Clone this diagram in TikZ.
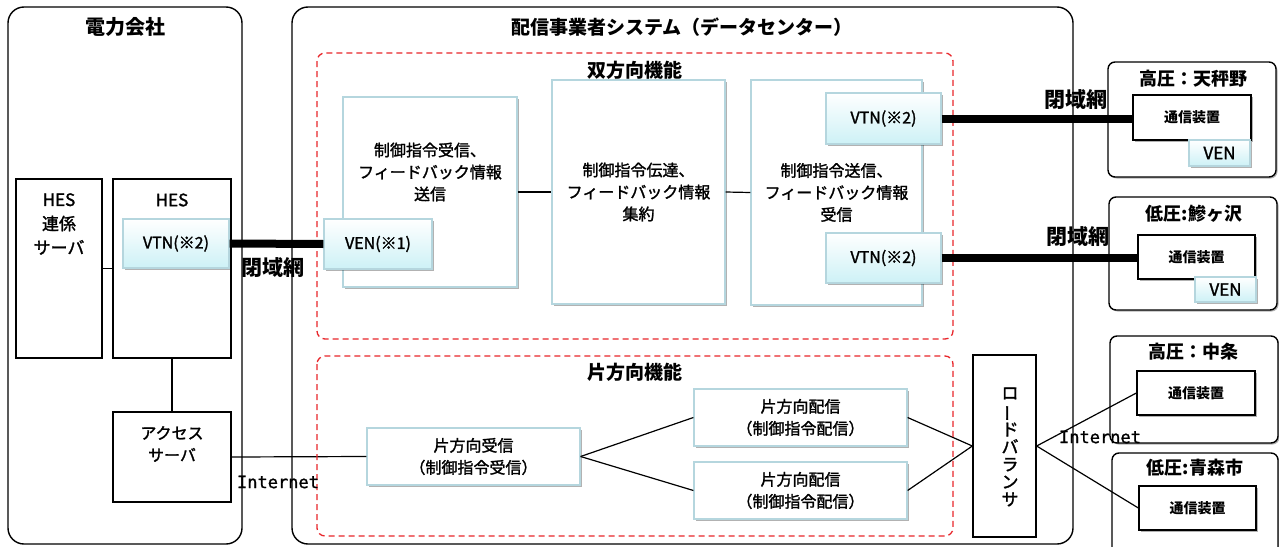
\documentclass[tikz,border=0pt]{standalone}
\usepackage{fontspec}
\setmainfont{Noto Sans CJK JP}
\newfontfamily\bodyfont{Noto Sans CJK JP}[FakeBold=1.6]
\newfontfamily\monofont{DejaVu Sans Mono}[FakeBold=1.2]
\usetikzlibrary{shadows}

\definecolor{zonered}{HTML}{E8262B}
\definecolor{funcblue}{HTML}{B5D6DE}
\definecolor{agentcyan}{HTML}{CDF1F6}

\begin{document}
\begin{tikzpicture}[x=1pt, y=-1pt, line width=1.2pt,
  dims/.style 2 args={minimum width=#1pt, minimum height=#2pt},
  txt/.style={font=\bodyfont\fontsize{16}{22}\selectfont, align=center, inner sep=0pt},
  head/.style={font=\bfseries\fontsize{19}{22}\selectfont, inner sep=0pt},
  sitehead/.style={font=\bfseries\fontsize{18}{20}\selectfont, inner sep=0pt},
  netlabel/.style={font=\bfseries\fontsize{21}{22}\selectfont, inner sep=0pt},
  inet/.style={font=\monofont\fontsize{17}{18}\selectfont, inner sep=0pt},
  softshadow/.style={drop shadow={shadow xshift=1.5pt, shadow yshift=-1.5pt, opacity=0.3, fill=black}},
  plainbox/.style={draw, fill=white, inner sep=0pt, line width=1.3pt},
  funcbox/.style={draw=funcblue, fill=white, inner sep=0pt, softshadow},
  agentbox/.style={draw=funcblue, top color=white, bottom color=agentcyan, inner sep=0pt,
    font=\bodyfont\fontsize{16}{20}\selectfont, softshadow},
  devbox/.style={draw, fill=white, inner sep=0pt, line width=1.3pt,
    font=\bfseries\fontsize{14}{16}\selectfont, softshadow},
  outerbox/.style={draw, rounded corners=16pt, line width=1.4pt},
  sitebox/.style={draw, fill=white, rounded corners=7pt, line width=1.4pt, softshadow},
  zone/.style={draw=zonered, dash pattern=on 6pt off 4pt, rounded corners=8pt, line width=1.3pt},
  link/.style={draw, line width=1.2pt},
  closednet/.style={draw, line width=8pt},
]
\useasboundingbox (0,0) rectangle (1279,546);
\clip (0,0) rectangle (1279,546);
\fill[white] (0,0) rectangle (1279,546);

% outer frames
\draw[outerbox] (8,7) rectangle (242,544);
\draw[outerbox] (292,7) rectangle (1073,544);
\node[head, font=\bfseries\fontsize{20}{22}\selectfont] (ttlpower) at (125,27) {電力会社};
\node[head] (ttlsys) at (682,27) {配信事業者システム（データセンター）};

% power company
\node[plainbox, dims={86}{179}] (hesr) at (59,268.5) {};
\node[txt, font=\bodyfont\fontsize{17}{24}\selectfont] (hesrtxt) at (59,224) {HES\\連係\\サーバ};
\node[plainbox, dims={118}{179}] (hes) at (172,268.5) {};
\node[txt, font=\bodyfont\fontsize{17}{22}\selectfont] (hestxt) at (172,200) {HES};
\node[agentbox, dims={106}{49}] (vtnh) at (176,243.5) {VTN(※2)};
\node[plainbox, dims={118}{90}] (access) at (172,457) {};
\node[txt] (accesstxt) at (172,444) {アクセス\\サーバ};

\draw[link] (hesr.east) -- (hes.west);
\draw[link] (hes.south) -- (access.north);

% two-way functions
\node[funcbox, dims={174}{190}] (rx) at (430,192) {};
\node[txt] (rxtxt) at (430,172) {制御指令受信、\\フィードバック情報\\送信};
\node[funcbox, dims={173}{224}, txt] (relay) at (638.5,192) {制御指令伝達、\\フィードバック情報\\集約};
\node[funcbox, dims={171}{225}, txt] (tx) at (836.5,192.5) {制御指令送信、\\フィードバック情報\\受信};
\node[agentbox, dims={108}{50}] (ven1) at (378,244) {VEN(※1)};
\node[agentbox, dims={115}{51}] (vtn1) at (883.5,118.5) {VTN(※2)};
\node[agentbox, dims={115}{50}] (vtn2) at (883.5,258) {VTN(※2)};

\draw[link] (rx.east) -- (relay.west);
\draw[link] (relay.east) -- (tx.west);

% one-way functions
\node[funcbox, dims={213}{57}, txt] (recv) at (473.5,456.5) {片方向受信\\（制御指令受信）};
\node[funcbox, dims={213}{57}, txt] (dist1) at (800.5,417.5) {片方向配信\\（制御指令配信）};
\node[funcbox, dims={213}{57}, txt] (dist2) at (800.5,490.5) {片方向配信\\（制御指令配信）};
\node[plainbox, dims={63}{182}] (lb) at (1004.5,446) {};
\node[txt, font=\bodyfont\fontsize{17}{17.5}\selectfont] (lbtxt) at (1010,447)
  {ロ\\\rotatebox[origin=c]{90}{ー}\\ド\\バ\\ラ\\ン\\サ};

\draw[link] (access.east) -- (recv.west);
\draw[link] (recv.east) -- (dist1.west);
\draw[link] (recv.east) -- (dist2.west);
\draw[link] (dist1.east) -- (lb.west);
\draw[link] (dist2.east) -- (lb.west);

% zones
\draw[zone] (317,53) rectangle (953,339);
\draw[zone] (317,356) rectangle (953,536);
\node[head] (ttltwo) at (635,70) {双方向機能};
\node[head] (ttlone) at (635,372) {片方向機能};

% sites
\draw[sitebox] (1108,62) rectangle (1276,177);
\node[sitehead] (site1) at (1193,79) {高圧：天秤野};
\node[devbox, dims={118}{45}] (com1) at (1192,117.5) {通信装置};
\node[agentbox, dims={61}{26}, font=\bodyfont\fontsize{17}{20}\selectfont] (vena) at (1219.5,153) {VEN};

\draw[sitebox] (1109,197) rectangle (1277,310);
\node[sitehead] (site2) at (1194,214) {低圧:鰺ヶ沢};
\node[devbox, dims={117}{44}] (com2) at (1196.5,257) {通信装置};
\node[agentbox, dims={61}{25}, font=\bodyfont\fontsize{17}{20}\selectfont] (venb) at (1225.5,289.5) {VEN};

\draw[sitebox] (1110,336) rectangle (1278,443);
\node[sitehead] (site3) at (1193,352) {高圧：中条};
\node[devbox, dims={118}{44}] (com3) at (1196,393) {通信装置};

\draw[sitebox] (1112,453) rectangle (1278,570);
\node[sitehead] (site4) at (1195,468) {低圧:青森市};
\node[devbox, dims={117}{44}] (com4) at (1197.5,508) {通信装置};

% networks
\draw[closednet] (vtnh.east) -- (ven1.west);
\draw[closednet] (vtn1.east) -- (vtn1.east -| com1.west);
\draw[closednet] (vtn2.east) -- (vtn2.east -| com2.west);
\draw[link] (lb.east) -- (com3.west);
\draw[link] (lb.east) -- (com4.west);

\node[netlabel] (net1) at (273,268) {閉域網};
\node[netlabel] (net2) at (1076,100) {閉域網};
\node[netlabel] (net3) at (1078,237) {閉域網};
\node[inet] (inet1) at (278,482) {Internet};
\node[inet] (inet2) at (1100,437) {Internet};

\end{tikzpicture}
\end{document}
